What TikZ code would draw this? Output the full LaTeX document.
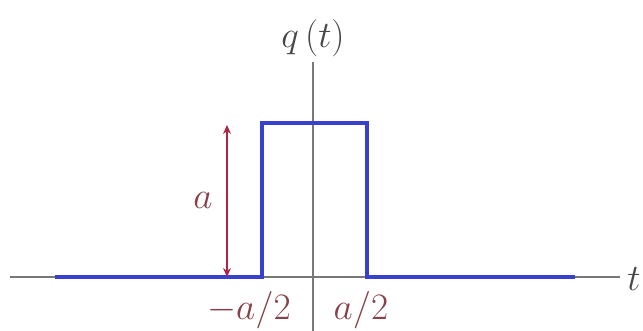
\documentclass[tikz,border=0pt]{standalone}
\usepackage{graphicx}
\usetikzlibrary{arrows.meta}
\definecolor{sigblue}{RGB}{55,65,205}
\definecolor{arrred}{RGB}{175,35,70}
\definecolor{lblred}{RGB}{135,65,75}
\definecolor{axgray}{RGB}{120,120,120}
\newcommand{\biglbl}[1]{\scalebox{1.5}{\fontsize{24}{26}\selectfont$#1$}}
\begin{document}
\begin{tikzpicture}[x=1pt,y=-1pt,
  axis/.style={draw=axgray,line width=2.5pt},
  signal/.style={draw=sigblue,line width=4pt,line join=miter},
  dim/.style={draw=arrred,line width=1.3pt,{Stealth[length=9pt,width=8pt]}-{Stealth[length=9pt,width=8pt]}},
  lbl/.style={inner sep=1pt},
]
\useasboundingbox (0,0) rectangle (643,331);
% axes
\coordinate (xl) at (10,277);
\coordinate (xr) at (620,277);
\coordinate (yb) at (313,331);
\coordinate (yt) at (313,62);
\draw[axis] (xl) -- (xr);
\draw[axis] (yb) -- (yt);
\node[lbl,text=axgray!60!black] (tl) at (634,279) {\biglbl{t}};
\node[lbl,text=axgray!60!black] (ql) at (313,38) {\biglbl{q\,(t)}};
% signal
\coordinate (s0) at (55,277);
\coordinate (s1) at (262,277);
\coordinate (s2) at (262,123);
\coordinate (s3) at (367,123);
\coordinate (s4) at (367,277);
\coordinate (s5) at (575,277);
\draw[signal] (s0) -- (s1) -- (s2) -- (s3) -- (s4) -- (s5);
% dimension
\coordinate (d1) at (227,277);
\coordinate (d2) at (227,125);
\draw[dim] (d1) -- (d2);
\node[lbl,text=lblred] (al) at (203,200) {\biglbl{a}};
\node[lbl,text=lblred] (ml) at (249,310) {\biglbl{-a/2}};
\node[lbl,text=lblred] (pl) at (361,310) {\biglbl{a/2}};
\end{tikzpicture}
\end{document}
